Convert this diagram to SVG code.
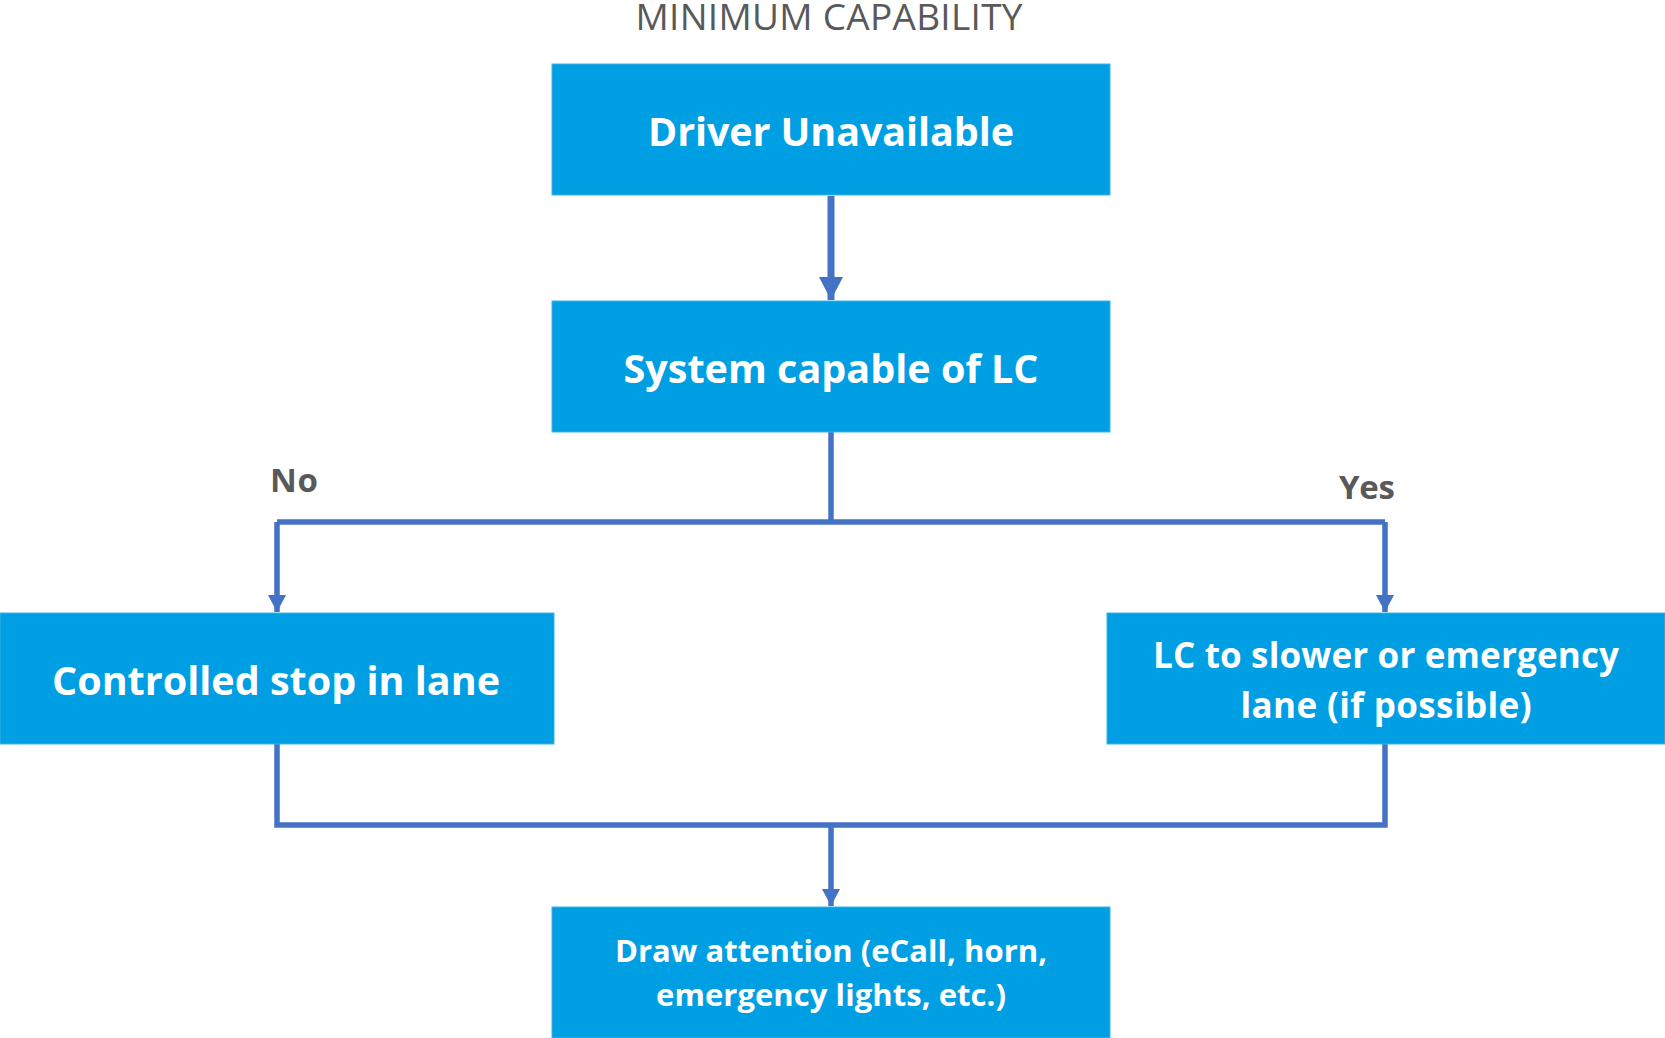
<svg xmlns="http://www.w3.org/2000/svg" width="1665" height="1038" viewBox="0 0 1665 1038">
  <style>
    .box { fill: #009FE3; stroke: #3DB3E8; stroke-width: 1; }
    .lbl { font-family: "Open Sans", "Noto Sans", sans-serif; font-weight: bold; fill: #FFFFFF; text-anchor: middle; }
    .cond { font-family: "Open Sans", "Noto Sans", sans-serif; font-weight: bold; fill: #595959; text-anchor: middle; font-size: 33px; }
    .title { font-family: "Open Sans", "Noto Sans", sans-serif; fill: #595959; text-anchor: middle; font-size: 37px; }
    .conn { fill: none; stroke: #4472C4; stroke-width: 5.5; }
  </style>
  <defs>
    <marker id="arrow" markerUnits="userSpaceOnUse" markerWidth="18" markerHeight="18" refX="17" refY="9" orient="auto">
      <path d="M0,0 L17,9 L0,18 Z" fill="#4472C4"/>
    </marker>
    <marker id="arrowL" markerUnits="userSpaceOnUse" markerWidth="24" markerHeight="24" refX="23" refY="12" orient="auto">
      <path d="M0,0 L23,12 L0,24 Z" fill="#4472C4"/>
    </marker>
  </defs>
  <rect width="1665" height="1038" fill="#FFFFFF"/>

  <text class="title" x="829" y="30" textLength="387">MINIMUM CAPABILITY</text>

  <g id="connectors">
    <path class="conn" d="M831,196 V300" style="stroke-width:7" marker-end="url(#arrowL)"/>
    <path class="conn" d="M831,432 V522"/>
    <path class="conn" d="M277,522 H1385"/>
    <path class="conn" d="M277,522 V612" marker-end="url(#arrow)"/>
    <path class="conn" d="M1385,522 V612" marker-end="url(#arrow)"/>
    <path class="conn" d="M277,744 V825 H1385 V744"/>
    <path class="conn" d="M831,825 V906" marker-end="url(#arrow)"/>
  </g>

  <g id="label-no"><text class="cond" x="294" y="492" textLength="48">No</text></g>
  <g id="label-yes"><text class="cond" x="1367" y="499" textLength="56">Yes</text></g>

  <g id="node-driver-unavailable">
    <rect class="box" x="552" y="64" width="558" height="131"/>
    <text class="lbl" x="831" y="146" font-size="39.5" textLength="366">Driver Unavailable</text>
  </g>
  <g id="node-system-capable">
    <rect class="box" x="552" y="301" width="558" height="131"/>
    <text class="lbl" x="831" y="383" font-size="39.5" textLength="415">System capable of LC</text>
  </g>
  <g id="node-controlled-stop">
    <rect class="box" x="0" y="613" width="554" height="131"/>
    <text class="lbl" x="276" y="695" font-size="39.5" textLength="448">Controlled stop in lane</text>
  </g>
  <g id="node-lane-change">
    <rect class="box" x="1107" y="613" width="558" height="131"/>
    <text class="lbl" x="1386" y="668" font-size="35" textLength="466">LC to slower or emergency</text>
    <text class="lbl" x="1386" y="718" font-size="35" textLength="291">lane (if possible)</text>
  </g>
  <g id="node-draw-attention">
    <rect class="box" x="552" y="907" width="558" height="131"/>
    <text class="lbl" x="831" y="962" font-size="31" textLength="432">Draw attention (eCall, horn,</text>
    <text class="lbl" x="831" y="1006" font-size="31" textLength="350">emergency lights, etc.)</text>
  </g>
</svg>
